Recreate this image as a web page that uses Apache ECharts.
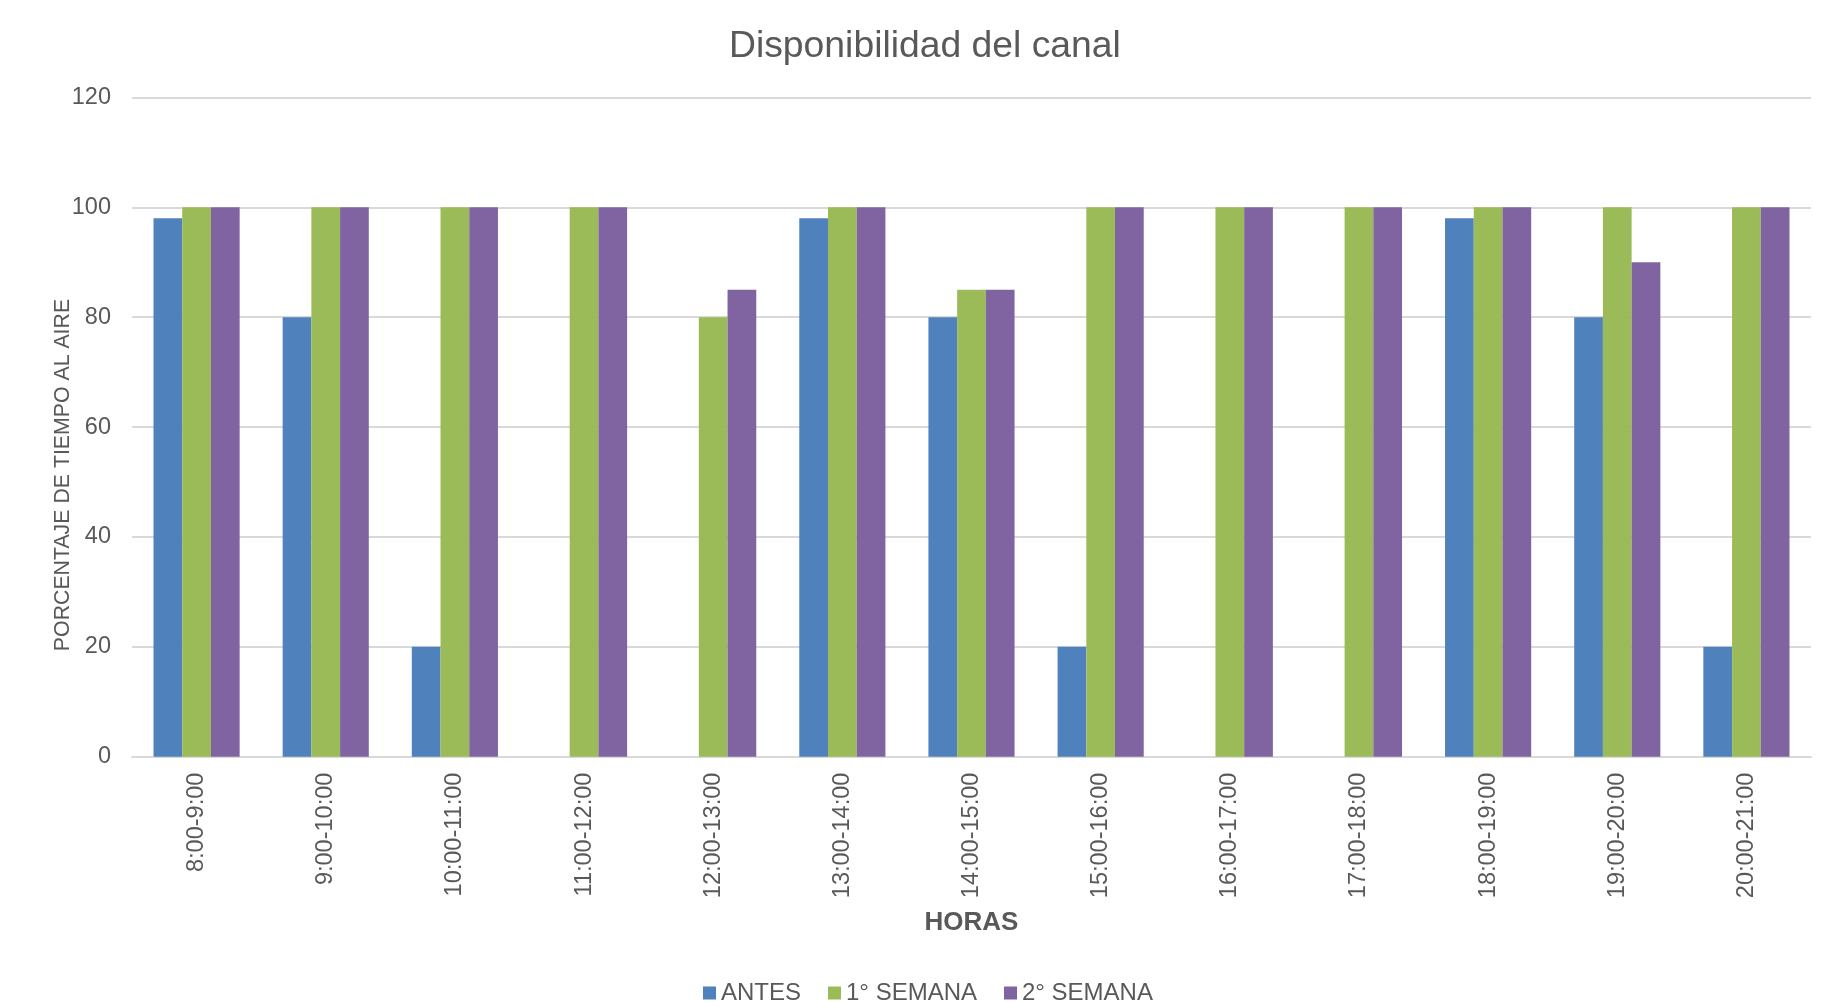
<!DOCTYPE html>
<html>
<head>
<meta charset="utf-8">
<script src="https://cdn.jsdelivr.net/npm/echarts@6/dist/echarts.min.js"></script>
<style>
html,body{margin:0;padding:0;background:#fff;}
#chart{width:1838px;height:1002px;}
</style>
</head>
<body>
<div id="chart"></div>
<script>
const categories = ['8:00-9:00','9:00-10:00','10:00-11:00','11:00-12:00','12:00-13:00','13:00-14:00','14:00-15:00','15:00-16:00','16:00-17:00','17:00-18:00','18:00-19:00','19:00-20:00','20:00-21:00'];
const antes = [98, 80, 20, 0, 0, 98, 80, 20, 0, 0, 98, 80, 20];
const semana1 = [100, 100, 100, 100, 80, 100, 85, 100, 100, 100, 100, 100, 100];
const semana2 = [100, 100, 100, 100, 85, 100, 85, 100, 100, 100, 100, 90, 100];
const seriesNames = ['ANTES', '1° SEMANA', '2° SEMANA'];
const yTicks = [0, 20, 40, 60, 80, 100, 120];

const FONT = "Arial, 'Liberation Sans', sans-serif";
const TXT = '#595959';
const chart = echarts.init(document.getElementById('chart'), null, {renderer: 'canvas'});
chart.setOption({
  animation: false,
  backgroundColor: '#ffffff',
  color: ['#4F81BD', '#9BBB59', '#8064A2'],
  textStyle: {fontFamily: FONT},
  title: {
    text: 'Disponibilidad del canal',
    left: 729,
    top: 28,
    padding: 0,
    textStyle: {fontSize: 37.3, fontWeight: 'normal', color: TXT, fontFamily: FONT}
  },
  legend: {
    data: seriesNames,
    left: 703,
    top: 981,
    padding: 0,
    icon: 'rect',
    itemWidth: 13,
    itemHeight: 13,
    itemGap: 27,
    textStyle: {fontSize: 24, color: TXT, fontFamily: FONT}
  },
  grid: {left: 132, right: 27, top: 97.4, bottom: 245.3, containLabel: false},
  xAxis: {
    type: 'category',
    data: categories,
    name: 'HORAS',
    nameLocation: 'middle',
    nameGap: 153,
    nameTextStyle: {fontSize: 26, fontWeight: 'bold', color: TXT, fontFamily: FONT},
    axisLine: {lineStyle: {color: '#D9D9D9', width: 2}},
    axisTick: {show: false},
    axisLabel: {rotate: 90, interval: 0, margin: 16, fontSize: 23.5, color: TXT, fontFamily: FONT}
  },
  yAxis: {
    type: 'value',
    min: yTicks[0],
    max: yTicks[yTicks.length - 1],
    interval: 20,
    axisLine: {show: false},
    axisTick: {show: false},
    splitLine: {lineStyle: {color: '#D9D9D9', width: 2}},
    axisLabel: {fontSize: 23.5, color: TXT, margin: 21, fontFamily: FONT}
  },
  graphic: [{
    type: 'text',
    x: 63,
    y: 475,
    rotation: Math.PI / 2,
    style: {
      text: 'PORCENTAJE DE TIEMPO AL AIRE',
      fontSize: 21.3,
      fontFamily: FONT,
      fill: TXT,
      align: 'center',
      verticalAlign: 'middle'
    }
  }],
  series: [
    {name: seriesNames[0], type: 'bar', data: antes, barGap: '0%', barCategoryGap: '33.3%'},
    {name: seriesNames[1], type: 'bar', data: semana1, barGap: '0%', barCategoryGap: '33.3%'},
    {name: seriesNames[2], type: 'bar', data: semana2, barGap: '0%', barCategoryGap: '33.3%'}
  ]
});
</script>
</body>
</html>
